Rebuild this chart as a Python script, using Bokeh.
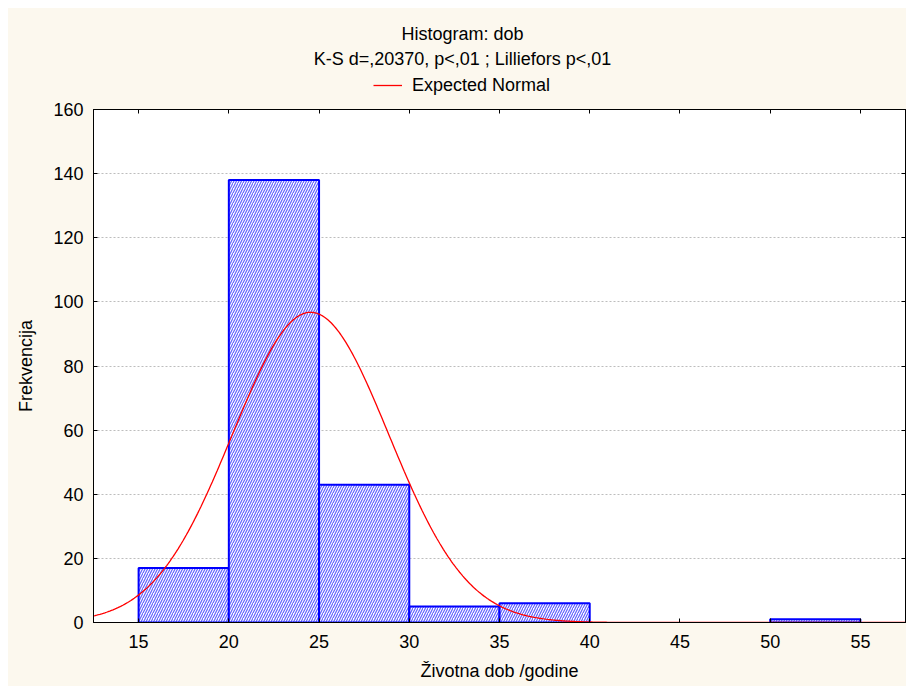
import numpy as np
from bokeh.plotting import figure
from bokeh.layouts import column, row
from bokeh.models import (Range1d, LinearAxis, FixedTicker, Legend, LegendItem,
                          ColumnDataSource, Label, Spacer)
from bokeh.embed import file_html
from bokeh.resources import INLINE

# ---- data ----
bin_left = [15, 20, 25, 30, 35, 50]
bin_right = [20, 25, 30, 35, 40, 55]
counts = [17, 138, 43, 5, 6, 1]
x_ticks = [15, 20, 25, 30, 35, 40, 45, 50, 55]
y_ticks = [0, 20, 40, 60, 80, 100, 120, 140, 160]
n_total = 210          # sum of counts
bin_width = 5
fit_mean = 24.53       # expected-normal parameters
fit_sd = 4.33
title_1 = "Histogram: dob"
title_2 = "K-S d=,20370, p<,01 ; Lilliefors p<,01"
legend_text = "Expected Normal"
x_label = "Životna dob /godine"
y_label = "Frekvencija"

FONT = "Liberation Sans"
CREAM = "#FCF8EE"
W = 898
HEAD_H = 90
MAIN_H = 678 - HEAD_H

# ---------------- header: titles + legend ----------------
head = figure(width=W, height=HEAD_H, output_backend="svg", toolbar_location=None,
              title=None, x_axis_location=None, y_axis_location=None,
              x_range=Range1d(0, 1), y_range=Range1d(0, 1), min_border=0)
head.background_fill_color = CREAM
head.border_fill_color = CREAM
head.outline_line_color = None
head.xgrid.visible = False
head.ygrid.visible = False

for txt, yy in ((title_1, 65), (title_2, 40)):
    head.add_layout(Label(x=369, y=yy, x_units="screen", y_units="screen",
                          text=txt, text_align="center", text_baseline="middle",
                          text_font=FONT, text_font_size="18px",
                          text_color="black"))

# legend sample renderer (kept outside the visible range of the header)
sample = head.line(x=[-2, -1], y=[-2, -2], line_color="#FF0000", line_width=1.3)
legend = Legend(items=[LegendItem(label=legend_text, renderers=[sample])],
                location=(280, 2), padding=0, spacing=0, margin=0,
                border_line_color=None, background_fill_alpha=0,
                glyph_width=29, glyph_height=22, label_height=22,
                label_standoff=10,
                label_text_font=FONT, label_text_font_size="18px",
                label_text_color="black")
head.add_layout(legend)

# ---------------- main histogram ----------------
p = figure(width=W, height=MAIN_H, output_backend="svg", toolbar_location=None,
           title=None,
           x_range=Range1d(12.5, 57.5), y_range=Range1d(0, 160),
           min_border_left=85, min_border_right=1, min_border_top=11,
           min_border_bottom=64)
p.background_fill_color = "white"
p.border_fill_color = CREAM
p.outline_line_color = "black"
p.outline_line_width = 1

src = ColumnDataSource(dict(left=bin_left, right=bin_right, top=counts,
                            bottom=[0] * len(counts)))
p.quad(left="left", right="right", top="top", bottom="bottom", source=src,
       fill_color="white", line_color="#0000FF", line_width=2,
       hatch_pattern="/", hatch_color="#0000FF", hatch_alpha=0.62,
       hatch_scale=5, hatch_weight=1.2)

xs = np.linspace(12.5, 57.5, 500)
ys = n_total * bin_width * np.exp(-0.5 * ((xs - fit_mean) / fit_sd) ** 2) / (fit_sd * np.sqrt(2 * np.pi))
curve = p.line(xs, ys, line_color="#FF0000", line_width=1.3)

top_axis = LinearAxis()
right_axis = LinearAxis()
p.add_layout(top_axis, "above")
p.add_layout(right_axis, "right")

for ax in list(p.below) + [top_axis]:
    ax.ticker = FixedTicker(ticks=x_ticks)
for ax in list(p.left) + [right_axis]:
    ax.ticker = FixedTicker(ticks=y_ticks)
for ax in list(p.below) + list(p.left) + [top_axis, right_axis]:
    ax.major_tick_in = 4
    ax.major_tick_out = 0
    ax.minor_tick_in = 0
    ax.minor_tick_out = 0
    ax.axis_line_color = "black"
    ax.major_tick_line_color = "black"
    ax.major_label_text_font = FONT
    ax.major_label_text_color = "black"
    ax.major_label_text_font_size = "18px"
    ax.axis_label_text_font = FONT
    ax.axis_label_text_font_style = "normal"
    ax.axis_label_text_color = "black"
    ax.axis_label_text_font_size = "18px"

for ax in (top_axis, right_axis):
    ax.major_label_text_font_size = "1px"
    ax.major_label_text_color = None
    ax.major_label_standoff = 0
    ax.axis_label = None

p.below[0].axis_label = x_label
p.below[0].major_label_standoff = 12
p.below[0].axis_label_standoff = 10
p.left[0].axis_label = y_label
p.left[0].major_label_standoff = 10
p.left[0].axis_label_standoff = 14

p.xgrid.visible = False
p.ygrid.ticker = FixedTicker(ticks=y_ticks)
p.ygrid.grid_line_color = "#BDBDBD"
p.ygrid.grid_line_dash = "2 2"
p.ygrid.grid_line_width = 1

inner = column(head, p, spacing=0, styles={"background-color": CREAM})
layout = column(Spacer(height=8), row(Spacer(width=8), inner))
open("out.html", "w").write(file_html(layout, INLINE))
